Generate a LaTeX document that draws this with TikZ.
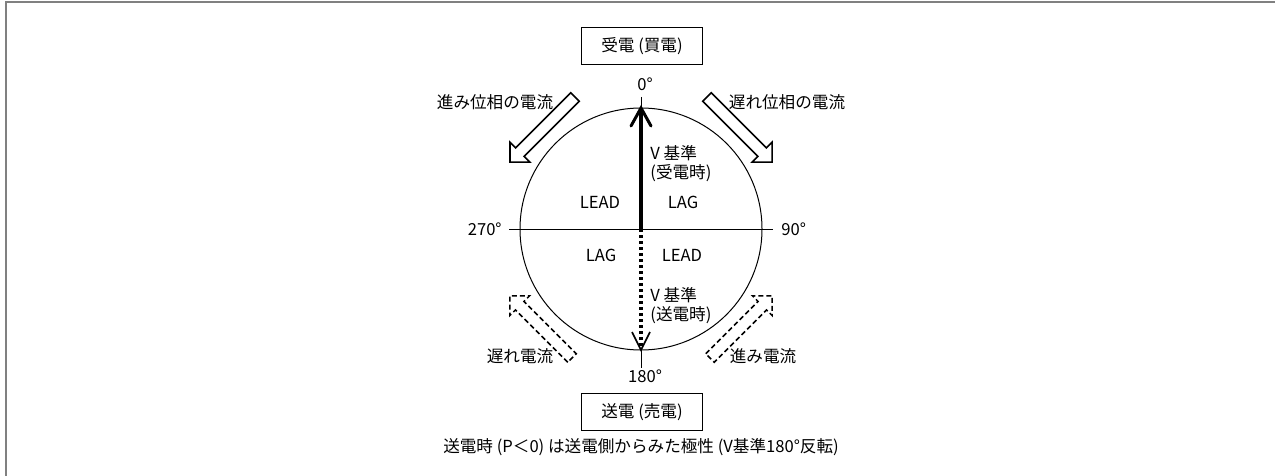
\documentclass[tikz,border=0pt]{standalone}
\usepackage{fontspec}
\setmainfont{Noto Sans CJK JP}
\usetikzlibrary{arrows.meta}
\begin{document}
\begin{tikzpicture}[x=0.5pt,y=-0.5pt,
  lbl/.style={font=\fontsize{8.3}{10}\selectfont, inner sep=0pt},
  boxed/.style={lbl, draw, line width=0.5pt, minimum width=60.5pt, minimum height=18.5pt},
  openarr/.style={draw, line width=0.8pt, line join=miter, fill=white},
  dasharr/.style={draw, line width=0.75pt, dash pattern=on 2.5pt off 1.5pt, line join=miter},
  thin/.style={line width=0.5pt}]
\useasboundingbox (0,0) rectangle (1275,476);
% frame
\draw[line width=0.8pt, gray] (6,476) -- (6,2) -- (1275,2);
% geometry
\coordinate (O) at (641,229);
\coordinate (T) at (641,108);
\coordinate (B) at (641,350);
\coordinate (Ttick) at (641,97);
\coordinate (Btick) at (641,368);
\coordinate (L) at (509,229);
\coordinate (R) at (773,229);
\draw[thin] (O) circle[radius=121];
\draw[thin] (L) -- (R);
\draw[thin] (Ttick) -- (T);
\draw[thin] (B) -- (Btick);
% V reference arrows
\draw[line width=1.75pt] (O) -- (T);
\draw[line width=1.5pt, line cap=round, line join=miter] (631,126) -- (T) -- (651,126);
\draw[line width=1.6pt, dash pattern=on 1.5pt off 1.5pt] (O) -- (641,346);
\draw[line width=0.8pt, line join=miter] (632,332) -- (B) -- (650,332);
% open arrows
\newcommand\openarrow[4]{%
  \draw[#4, shift={#1}, rotate=#2] (0,-6) -- (#3-14,-6) -- (#3-14,-14) -- (#3,0) -- (#3-14,14) -- (#3-14,6) -- (0,6) -- cycle;}
\openarrow{(707,97)}{-45}{92}{openarr}
\openarrow{(575,97)}{-135}{92}{openarr}
\openarrow{(710,358)}{45}{88}{dasharr}
\openarrow{(572,358)}{135}{88}{dasharr}
% labels
\node[boxed] (recv) at (642,46) {受電 (買電)};
\node[boxed] (send) at (642,412) {送電 (売電)};
\node[lbl] (d0) at (645,84) {0°};
\node[lbl] (d180) at (645,376) {180°};
\node[lbl, anchor=east] (d270) at (502,229) {270°};
\node[lbl, anchor=west] (d90) at (781,229) {90°};
\node[lbl] (q1) at (600,202) {LEAD};
\node[lbl] (q2) at (683,202) {LAG};
\node[lbl] (q3) at (601,255) {LAG};
\node[lbl] (q4) at (682,255) {LEAD};
\node[lbl, anchor=west] (vr1) at (650,153) {V 基準};
\node[lbl, anchor=west] (vr2) at (650,173) {(受電時)};
\node[lbl, anchor=west] (vs1) at (650,295) {V 基準};
\node[lbl, anchor=west] (vs2) at (650,315) {(送電時)};
\node[lbl] (lead) at (495,102) {進み位相の電流};
\node[lbl] (lag) at (787,102) {遅れ位相の電流};
\node[lbl] (lagc) at (520,356) {遅れ電流};
\node[lbl] (leadc) at (763,356) {進み電流};
\node[lbl] (cap) at (641,447) {送電時 (P＜0) は送電側からみた極性 (V基準180°反転)};
\end{tikzpicture}
\end{document}
